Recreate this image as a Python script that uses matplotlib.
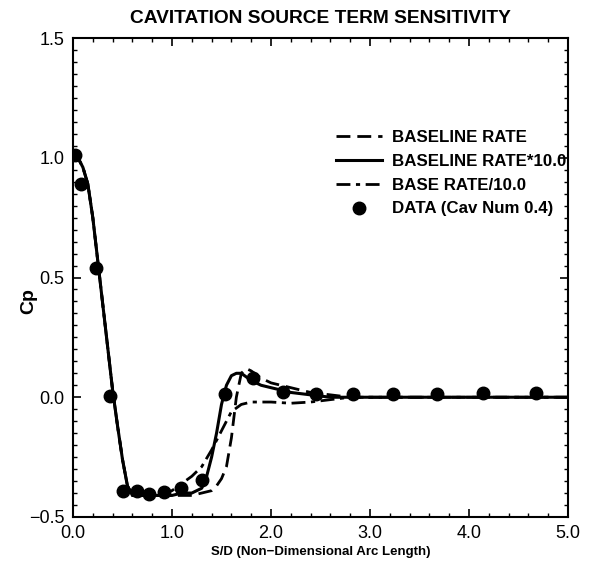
import matplotlib
matplotlib.use("Agg")
import matplotlib.pyplot as plt
from matplotlib.ticker import MultipleLocator

plt.rcParams['font.family'] = ['Liberation Sans', 'DejaVu Sans']

# Shared leading-edge portion
x_common = [0.0, 0.05, 0.1, 0.15, 0.2, 0.25, 0.3, 0.35, 0.4, 0.45, 0.5, 0.55, 0.6, 0.7]
y_common = [1.02, 1.0, 0.96, 0.89, 0.75, 0.57, 0.39, 0.21, 0.03, -0.12, -0.26, -0.37, -0.41, -0.41]

# BASELINE RATE*10.0 (solid)
x_solid = x_common + [0.8, 0.9, 1.0, 1.1, 1.2, 1.3, 1.35, 1.4, 1.45, 1.5, 1.55, 1.6, 1.65, 1.7, 1.8, 1.9, 2.0, 2.2, 2.4, 2.6, 3.0, 5.0]
y_solid = y_common + [-0.41, -0.41, -0.41, -0.40, -0.40, -0.38, -0.33, -0.25, -0.15, -0.03, 0.05, 0.09, 0.10, 0.10, 0.07, 0.05, 0.04, 0.02, 0.01, 0.0, 0.0, 0.0]

# BASELINE RATE (dashed)
x_dash = x_common + [0.8, 1.0, 1.2, 1.3, 1.4, 1.45, 1.5, 1.55, 1.6, 1.65, 1.7, 1.75, 1.8, 1.9, 2.0, 2.2, 2.4, 2.6, 2.8, 5.0]
y_dash = y_common + [-0.41, -0.41, -0.41, -0.40, -0.39, -0.37, -0.34, -0.29, -0.17, 0.0, 0.10, 0.12, 0.11, 0.08, 0.06, 0.04, 0.02, 0.01, 0.0, 0.0]

# BASE RATE/10.0 (dash-dot)
x_dd = x_common + [0.8, 0.9, 1.0, 1.1, 1.2, 1.3, 1.4, 1.45, 1.5, 1.55, 1.6, 1.7, 1.8, 2.0, 2.2, 2.4, 2.6, 2.8, 5.0]
y_dd = y_common + [-0.41, -0.40, -0.39, -0.36, -0.33, -0.29, -0.22, -0.18, -0.14, -0.10, -0.06, -0.03, -0.02, -0.02, -0.025, -0.02, -0.01, 0.0, 0.0]

# Experimental data
x_data = [0.02, 0.08, 0.23, 0.37, 0.51, 0.65, 0.77, 0.92, 1.09, 1.30, 1.54, 1.82, 2.12, 2.45, 2.83, 3.23, 3.68, 4.14, 4.68]
y_data = [1.01, 0.89, 0.54, 0.005, -0.39, -0.39, -0.405, -0.395, -0.38, -0.345, 0.015, 0.08, 0.02, 0.012, 0.012, 0.015, 0.015, 0.018, 0.018]

labels = ["BASELINE RATE", "BASELINE RATE*10.0", "BASE RATE/10.0", "DATA (Cav Num 0.4)"]
x_ticks = [0.0, 1.0, 2.0, 3.0, 4.0, 5.0]
y_ticks = [-0.5, 0.0, 0.5, 1.0, 1.5]

fig = plt.figure(figsize=(5.95, 5.69), dpi=100)
ax = fig.add_axes([0.1227, 0.0914, 0.8319, 0.8418])

ax.plot(x_dash, y_dash, color='black', lw=2.0, ls=(0, (5, 2.5)), label=labels[0])
ax.plot(x_solid, y_solid, color='black', lw=2.2, ls='-', label=labels[1])
ax.plot(x_dd, y_dd, color='black', lw=2.0, ls=(0, (5, 2, 1.5, 2)), label=labels[2])
ax.plot(x_data, y_data, ls='none', marker='o', color='black', ms=9, label=labels[3])

ax.set_xlim(0, 5)
ax.set_ylim(-0.5, 1.5)
ax.set_xticks(x_ticks)
ax.set_yticks(y_ticks)
ax.set_xticklabels([f"{v:.1f}" for v in x_ticks])
ax.set_yticklabels([f"{v:.1f}".replace('-', '\u2212') for v in y_ticks])
ax.xaxis.set_minor_locator(MultipleLocator(0.2))
ax.yaxis.set_minor_locator(MultipleLocator(0.05))
ax.tick_params(which='both', direction='in', top=True, right=True, labelsize=13)
ax.tick_params(which='major', length=6, width=1.2, pad=6)
ax.tick_params(which='minor', length=3, width=1.0)
for s in ax.spines.values():
    s.set_linewidth(1.5)

ax.set_title("CAVITATION SOURCE TERM SENSITIVITY", fontsize=13.8, fontweight='bold', pad=11)
ax.set_xlabel("S/D (Non\u2212Dimensional Arc Length)", fontsize=9.5, fontweight='bold', labelpad=3)
ax.set_ylabel("Cp", fontsize=14, fontweight='bold')
ax.yaxis.set_label_coords(-0.073, 0.45)

leg = ax.legend(loc='upper left', bbox_to_anchor=(0.518, 0.822), frameon=False,
                prop={'weight': 'bold', 'size': 12.2}, handlelength=2.7,
                handletextpad=0.6, labelspacing=0.52, numpoints=1, borderaxespad=0)

fig.savefig("out.png", dpi=100)
